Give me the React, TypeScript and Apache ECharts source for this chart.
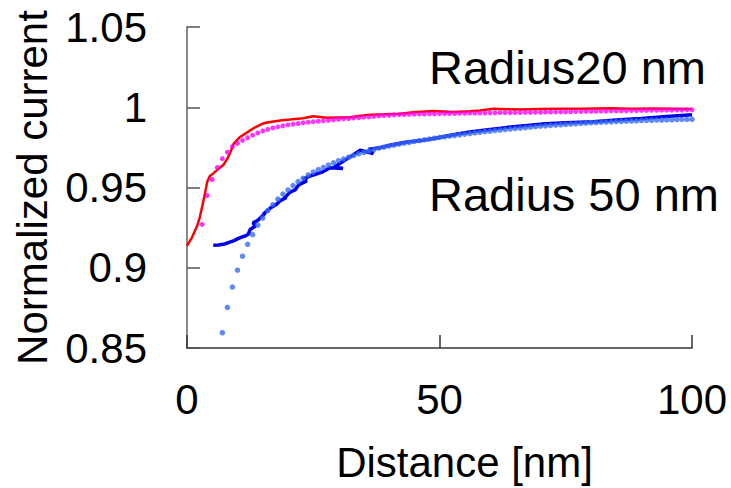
import React, { useEffect, useRef } from "react";
import * as echarts from "echarts";

const FONT = "'Liberation Sans', Arial, Helvetica, sans-serif";

const xTickValues = [0, 50, 100];
const yTickLabels = ["0.85", "0.9", "0.95", "1", "1.05"];

// Red line (Radius 20 nm, solid)
const redX = [0, 1, 2, 2.5, 3, 3.5, 4, 4.5, 5.2, 6, 7.2, 8, 8.6, 9.2, 10.5, 12, 13.5, 15.1, 17.1, 18.5, 20.4, 23, 25, 27.7, 30, 32.3, 34, 36.2, 39, 42.2, 44.8, 48.8, 52.7, 56, 58, 60.7, 63, 66, 70, 74, 78, 83.8, 88, 92, 96, 100];
const redY = [0.9136, 0.919, 0.926, 0.931, 0.938, 0.9454, 0.9535, 0.957, 0.9588, 0.961, 0.964, 0.968, 0.972, 0.977, 0.9815, 0.9845, 0.9875, 0.99, 0.9911, 0.9918, 0.9923, 0.9932, 0.9944, 0.9934, 0.9936, 0.9938, 0.9945, 0.9954, 0.9956, 0.9959, 0.9969, 0.9977, 0.997, 0.9975, 0.998, 0.999, 0.9988, 0.9986, 0.9989, 0.999, 0.9991, 0.9994, 0.9991, 0.9992, 0.9991, 0.9989];

// Magenta dots (Radius 20 nm)
const magentaX = [3, 4, 5, 6, 7, 8, 9, 10, 11, 12, 13, 14, 15, 16, 17, 18, 19, 20, 21, 22, 23, 24, 25, 26, 27, 28, 29, 30, 31, 32, 33, 34, 35, 36, 37, 38, 39, 40, 41, 42, 43, 44, 45, 46, 47, 48, 49, 50, 51, 52, 53, 54, 55, 56, 57, 58, 59, 60, 61, 62, 63, 64, 65, 66, 67, 68, 69, 70, 71, 72, 73, 74, 75, 76, 77, 78, 79, 80, 81, 82, 83, 84, 85, 86, 87, 88, 89, 90, 91, 92, 93, 94, 95, 96, 97, 98, 99, 100];
const magentaY = [0.927, 0.945, 0.955, 0.9625, 0.968, 0.972, 0.9755, 0.9775, 0.9794, 0.981, 0.9826, 0.984, 0.9852, 0.9862, 0.9871, 0.9878, 0.9884, 0.989, 0.9895, 0.9899, 0.9903, 0.9907, 0.991, 0.9913, 0.9916, 0.9919, 0.9922, 0.9925, 0.9928, 0.993, 0.9933, 0.9935, 0.9938, 0.994, 0.9943, 0.9946, 0.9948, 0.995, 0.9952, 0.9954, 0.9955, 0.9956, 0.9957, 0.9958, 0.9958, 0.9959, 0.9959, 0.996, 0.996, 0.9961, 0.9961, 0.9962, 0.9962, 0.9963, 0.9963, 0.9964, 0.9964, 0.9965, 0.9965, 0.9966, 0.9966, 0.9966, 0.9967, 0.9967, 0.9968, 0.9968, 0.9969, 0.9969, 0.997, 0.997, 0.9971, 0.9971, 0.9972, 0.9972, 0.9973, 0.9973, 0.9974, 0.9975, 0.9975, 0.9976, 0.9976, 0.9977, 0.9977, 0.9978, 0.9978, 0.9979, 0.9979, 0.998, 0.998, 0.9981, 0.9981, 0.9982, 0.9982, 0.9982, 0.9983, 0.9983, 0.9984, 0.9984];

// Dark blue line (Radius 50 nm, solid, noisy)
const blueX = [5.2, 6.2, 7.2, 8.2, 7.6, 9.2, 10, 10.8, 11.5, 12.1, 12.5, 13.5, 13.1, 14, 14.5, 15.5, 15.1, 16.5, 17.2, 17.8, 18.4, 19.7, 19.2, 20.4, 21.4, 22.1, 23.7, 23, 25, 27, 28.3, 30.9, 29.2, 31, 32.8, 34.3, 36.9, 36, 38.2, 40.2, 43, 46.8, 50, 53, 56, 60, 63, 67.3, 71, 75, 80.5, 85, 90, 95, 100];
const blueY = [0.914, 0.9142, 0.9146, 0.9155, 0.915, 0.9167, 0.918, 0.9191, 0.9198, 0.9207, 0.9238, 0.9259, 0.928, 0.9295, 0.931, 0.9341, 0.9335, 0.9372, 0.9385, 0.9397, 0.9417, 0.9438, 0.9432, 0.9471, 0.9485, 0.9516, 0.9541, 0.9553, 0.9578, 0.9599, 0.9623, 0.9619, 0.9628, 0.9665, 0.9701, 0.9732, 0.9712, 0.9738, 0.9748, 0.9763, 0.978, 0.9794, 0.9812, 0.983, 0.9846, 0.9862, 0.9873, 0.9887, 0.9897, 0.9904, 0.991, 0.992, 0.993, 0.9942, 0.9954];

// Light blue dots (Radius 50 nm)
const lightX = [7, 8, 9, 10, 11, 12, 13, 14, 15, 16, 17, 18, 19, 20, 21, 22, 23, 24, 25, 26, 27, 28, 29, 30, 31, 32, 33, 34, 35, 36, 37, 38, 39, 40, 41, 42, 43, 44, 45, 46, 47, 48, 49, 50, 51, 52, 53, 54, 55, 56, 57, 58, 59, 60, 61, 62, 63, 64, 65, 66, 67, 68, 69, 70, 71, 72, 73, 74, 75, 76, 77, 78, 79, 80, 81, 82, 83, 84, 85, 86, 87, 88, 89, 90, 91, 92, 93, 94, 95, 96, 97, 98, 99, 100];
const lightY = [0.8595, 0.8753, 0.888, 0.8985, 0.9072, 0.9146, 0.9207, 0.9265, 0.931, 0.9356, 0.9393, 0.9428, 0.9459, 0.9485, 0.9512, 0.9537, 0.9557, 0.9578, 0.9596, 0.9611, 0.9625, 0.964, 0.9654, 0.9667, 0.9677, 0.9689, 0.9699, 0.971, 0.9718, 0.9728, 0.9736, 0.9745, 0.9751, 0.9758, 0.9764, 0.977, 0.9776, 0.9781, 0.9787, 0.9792, 0.9797, 0.9802, 0.9807, 0.9812, 0.9816, 0.982, 0.9824, 0.9828, 0.9832, 0.9836, 0.984, 0.9844, 0.9848, 0.9851, 0.9855, 0.9858, 0.9861, 0.9864, 0.9867, 0.987, 0.9873, 0.9876, 0.9879, 0.9882, 0.9884, 0.9887, 0.9889, 0.9891, 0.9893, 0.9895, 0.9897, 0.9899, 0.9901, 0.9903, 0.9905, 0.9906, 0.9908, 0.9909, 0.9911, 0.9912, 0.9913, 0.9914, 0.9915, 0.9917, 0.9918, 0.9919, 0.992, 0.992, 0.9921, 0.9922, 0.9923, 0.9924, 0.9924, 0.9925];

const annotations = ["Radius20 nm", "Radius 50 nm"];

const zip = (xs: number[], ys: number[]) => xs.map((x, i) => [x, ys[i]]);

export default function App() {
  const ref = useRef<HTMLDivElement>(null);
  useEffect(() => {
    if (!ref.current) return;
    const chart = echarts.init(ref.current, null, { renderer: "svg" });
    chart.setOption({
      animation: false,
      backgroundColor: "#ffffff",
      grid: { left: 187, right: 39, top: 27, bottom: 137, containLabel: false },
      xAxis: {
        type: "value",
        min: xTickValues[0],
        max: xTickValues[xTickValues.length - 1],
        interval: 50,
        name: "Distance [nm]",
        nameLocation: "middle",
        nameGap: 93,
        nameTextStyle: { fontSize: 42, color: "#000", fontFamily: FONT, padding: [0, 0, 0, 50] },
        axisLine: { show: true, lineStyle: { color: "#333", width: 1.5 } },
        axisTick: { show: true, inside: true, length: 13, lineStyle: { color: "#333", width: 1.5 } },
        splitLine: { show: false },
        axisLabel: { fontSize: 42, color: "#000", fontFamily: FONT, margin: 30 },
      },
      yAxis: {
        type: "value",
        min: 0.85,
        max: 1.05,
        interval: 0.05,
        name: "Normalized current",
        nameLocation: "middle",
        nameRotate: 90,
        nameGap: 134,
        nameTextStyle: { fontSize: 42, color: "#000", fontFamily: FONT },
        axisLine: { show: true, lineStyle: { color: "#888", width: 2 } },
        axisTick: { show: true, inside: true, length: 13, lineStyle: { color: "#555", width: 1.5 } },
        splitLine: { show: false },
        axisLabel: {
          fontSize: 42,
          color: "#000",
          fontFamily: FONT,
          margin: 40,
          formatter: (v: number) => {
            const idx = Math.round((v - 0.85) / 0.05);
            return yTickLabels[idx] ?? "";
          },
        },
      },
      series: [
        {
          type: "line",
          data: zip(redX, redY),
          symbol: "none",
          lineStyle: { color: "#ff0000", width: 2.5 },
          z: 2,
        },
        {
          type: "line",
          data: zip(blueX, blueY),
          symbol: "none",
          lineStyle: { color: "#0000ee", width: 3.5 },
          z: 2,
        },
        {
          type: "scatter",
          data: zip(magentaX, magentaY),
          symbolSize: 5,
          itemStyle: { color: "#ff00ff" },
          z: 3,
        },
        {
          type: "scatter",
          data: zip(lightX, lightY),
          symbolSize: 5.5,
          itemStyle: { color: "#3a6ef0" },
          z: 3,
        },
      ],
      graphic: [
        {
          type: "text",
          left: 429,
          top: 44,
          style: { text: annotations[0], fontSize: 47, fontFamily: FONT, fill: "#000" },
        },
        {
          type: "text",
          left: 429,
          top: 171,
          style: { text: annotations[1], fontSize: 47, fontFamily: FONT, fill: "#000" },
        },
      ],
    });
    return () => chart.dispose();
  }, []);
  return (
    <div
      ref={ref}
      style={{ position: "fixed", left: 0, top: 0, width: 731, height: 488 }}
    />
  );
}
